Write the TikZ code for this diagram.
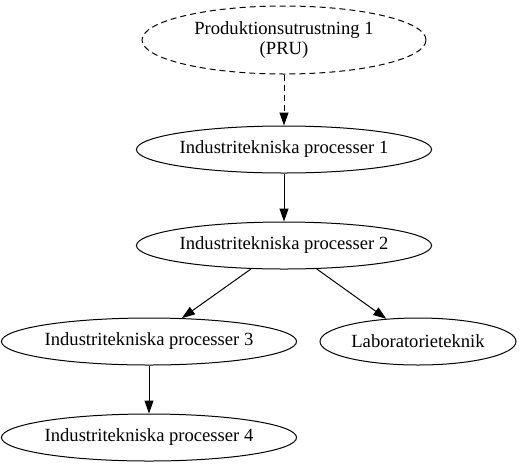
\documentclass[tikz,border=0pt]{standalone}
\usepackage{fontspec}
\setmainfont{Liberation Serif}
\usetikzlibrary{positioning}
\usetikzlibrary{arrows.meta,shapes.geometric}

\begin{document}
\begin{tikzpicture}[
x=1pt, y=1pt,
every node/.style={font=\fontsize{18.6pt}{20pt}\selectfont},
dashnode/.style={ellipse, draw=black, dash pattern=on 6pt off 4pt, line width=1pt, minimum width=284pt, minimum height=68pt, inner sep=0pt, align=center},
procnode/.style={ellipse, draw=black, line width=1pt, minimum height=47pt, inner sep=0pt},
edge/.style={-{Triangle[length=13pt,width=9pt]}, line width=1pt},
node distance=48pt,
]
\useasboundingbox (0,0) rectangle (521,-464);

%Nodes
\node[dashnode]                       (pru)      at (284,-40)                          {Produktionsutrustning 1\\(PRU)};
\node[procnode, minimum width=294pt]  (ipone)    [below=51pt of pru]                    {Industritekniska processer 1};
\node[procnode, minimum width=294pt]  (iptwo)    [below=of ipone]                       {Industritekniska processer 2};
\node[procnode, minimum width=292pt]  (ipthree)  [below=of iptwo, xshift=-135pt]        {Industritekniska processer 3};
\node[procnode, minimum width=196pt]  (lab)      [below=of iptwo, xshift=134pt]         {Laboratorieteknik};
\node[procnode, minimum width=292pt]  (ipfour)   [below=of ipthree]                     {Industritekniska processer 4};

%Lines
\draw[edge, dash pattern=on 6pt off 4pt] (pru) -- (ipone);
\draw[edge] (ipone) -- (iptwo);
\draw[edge] (iptwo) -- (ipthree);
\draw[edge] (iptwo) -- (lab);
\draw[edge] (ipthree) -- (ipfour);
\end{tikzpicture}
\end{document}
